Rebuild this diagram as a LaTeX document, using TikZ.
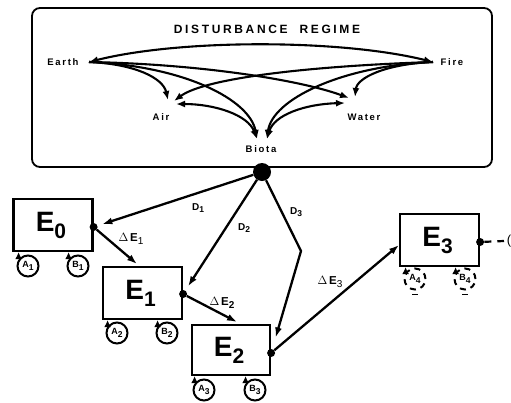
\documentclass[tikz,border=0pt]{standalone}
\usepackage{fontspec}
\setmainfont{Liberation Sans}
\newfontfamily\spaced[LetterSpace=18]{Liberation Sans}
\newfontfamily\spacedT[LetterSpace=22]{Liberation Sans}
\usetikzlibrary{arrows.meta,calc}
\newcommand{\lsub}[1]{\raisebox{-2.5pt}{\fontsize{8.5}{9}\selectfont #1}}
\begin{document}
\begin{tikzpicture}[x=1pt,y=-1pt,
  arr/.style={-{Latex[length=10pt,width=7pt]}, line width=2.3pt},
  darr/.style={{Latex[length=9pt,width=7pt]}-{Latex[length=9pt,width=7pt]}, line width=2.1pt},
  iarr/.style={-{Latex[length=9pt,width=7pt]}, line width=2.1pt},
  elbl/.style={font=\spaced\bfseries\fontsize{9.5}{11}\selectfont, inner sep=1pt},
  ebox/.style={draw, line width=2.2pt, minimum width=79pt, minimum height=52pt, inner sep=0pt},
  big/.style={font=\bfseries\fontsize{28}{29}\selectfont},
  dot/.style={circle, fill, minimum size=8pt, inner sep=0pt},
  ab/.style={circle, draw, line width=2pt, minimum size=21pt, inner sep=0pt, font=\bfseries\fontsize{9}{10}\selectfont},
  abd/.style={ab, dash pattern=on 6pt off 5pt},
  dl/.style={font=\bfseries\fontsize{10}{11}\selectfont, inner sep=1pt},
  del/.style={font=\bfseries\fontsize{11.5}{12}\selectfont, inner sep=1pt}
]
\useasboundingbox (0,0) rectangle (511,402);

% disturbance regime box
\draw[line width=1.8pt, rounded corners=8pt] (32,8) rectangle (492,167);
\node[font=\spacedT\bfseries\fontsize{12}{14}\selectfont] (title) at (267,29) {DISTURBANCE\ \ REGIME};

\node[elbl] (earth) at (63,62) {Earth};
\node[elbl] (fire) at (452,62) {Fire};
\node[elbl] (air) at (161,117) {Air};
\node[elbl] (water) at (364,117) {Water};
\node[elbl] (biota) at (261,149) {Biota};

\coordinate (ea) at (89,62);
\coordinate (fi) at (433,62);
\coordinate (airA) at (168,100);
\coordinate (airB) at (174,101);
\coordinate (airC) at (176,104);
\coordinate (watA) at (349,98);
\coordinate (watB) at (355,97);
\coordinate (watC) at (345,103);
\coordinate (bioL) at (257,139);
\coordinate (bioR) at (267,139);

\draw[darr] (ea) .. controls (180,39) and (340,39) .. (fi);
\draw[iarr] (ea) .. controls (135,64) and (163,78) .. (airA);
\draw[iarr] (ea) .. controls (200,64) and (300,80) .. (watA);
\draw[iarr] (ea) .. controls (185,66) and (250,100) .. (bioL);
\draw[iarr] (fi) .. controls (310,66) and (205,78) .. (airB);
\draw[iarr] (fi) .. controls (385,64) and (357,78) .. (watB);
\draw[iarr] (fi) .. controls (340,66) and (272,100) .. (bioR);
\draw[darr] (airC) .. controls (215,104) and (248,115) .. (bioL);
\draw[darr] (watC) .. controls (305,104) and (274,115) .. (bioR);

% ball
\node[circle, fill, minimum size=18pt, inner sep=0pt] (ball) at (262,172) {};

% E boxes
\node[ebox] (e0) at (53,225) {};
\node[big] at ([xshift=-2pt]e0.center) {E\raisebox{-7pt}{\fontsize{21}{21}\selectfont 0}};
\node[ebox] (e1) at (142.5,293) {};
\node[big] at ([xshift=-2pt]e1.center) {E\raisebox{-7pt}{\fontsize{21}{21}\selectfont 1}};
\node[ebox, minimum height=50pt, minimum width=78pt] (e2) at (231,350) {};
\node[big] at ([xshift=-2pt]e2.center) {E\raisebox{-7pt}{\fontsize{21}{21}\selectfont 2}};
\node[ebox] (e3) at (439.5,240) {};
\node[big] at ([xshift=-2pt]e3.center) {E\raisebox{-7pt}{\fontsize{21}{21}\selectfont 3}};

\node[dot] (d0) at ([yshift=-2pt]e0.east) {};
\node[dot] (d1) at ([yshift=-1pt]e1.east) {};
\node[dot] (d2) at ([yshift=-3pt]e2.east) {};
\node[dot] (d3) at ([yshift=-2pt]e3.east) {};

% D arrows
\coordinate (bend) at (301,251);
\draw[arr, shorten >=5pt] (ball) -- (d0);
\draw[arr, shorten >=5pt] (ball) -- (d1);
\draw[arr, shorten >=12pt] (ball) -- (bend) -- (d2);
\node[dl] (D1) at (198,208) {D\lsub{1}};
\node[dl] (D2) at (244,228) {D\lsub{2}};
\node[dl] (D3) at (296,212) {D\lsub{3}};

% delta E arrows
\coordinate (t1) at (137,264);
\coordinate (t2) at (237,322);
\coordinate (t3) at (399,245);
\draw[arr] (d0) -- (t1);
\draw[arr] (d1) -- (t2);
\draw[arr] (d2) -- (t3);
\node[del] (dE1) at (131,239) {$\Delta$\,E\raisebox{-3pt}{\fontsize{10}{10}\selectfont\mdseries 1}};
\node[del] (dE2) at (222,303) {$\Delta$\,E\raisebox{-3pt}{\fontsize{10}{10}\selectfont 2}};
\node[del] (dE3) at (330,282) {$\Delta$\,E\raisebox{-3pt}{\fontsize{10}{10}\selectfont\mdseries 3}};

% dashed continuation
\coordinate (cont) at (504,241);
\draw[line width=2.2pt, dash pattern=on 7pt off 6pt] (d3) -- (cont);
\node[font=\fontsize{13}{14}\selectfont, inner sep=0pt] (paren) at (509,241) {(};

% A/B loops
\node[ab] (a1) at (28,266) {A\lsub{1}};
\node[ab] (b1) at (78,266) {B\lsub{1}};
\node[ab] (a2) at (117,333) {A\lsub{2}};
\node[ab] (b2) at (167,333) {B\lsub{2}};
\node[ab] (a3) at (204,390) {A\lsub{3}};
\node[ab] (b3) at (255,390) {B\lsub{3}};
\node[abd] (a4) at (415,279) {A\lsub{4}};
\node[abd] (b4) at (465,279) {B\lsub{4}};

\foreach \c/\b in {a1/e0,b1/e0,a2/e1,b2/e1,a3/e2,b3/e2,a4/e3,b4/e3}{
  \draw[-{Latex[length=7pt,width=7pt]}, line width=2pt] (\c.145) -- (\c.145 |- \b.south);
}
\draw[line width=1.8pt] ([xshift=-3pt,yshift=-4pt]a4.south) -- ++(6,0);
\draw[line width=1.8pt] ([xshift=-3pt,yshift=-4pt]b4.south) -- ++(6,0);
\end{tikzpicture}
\end{document}
